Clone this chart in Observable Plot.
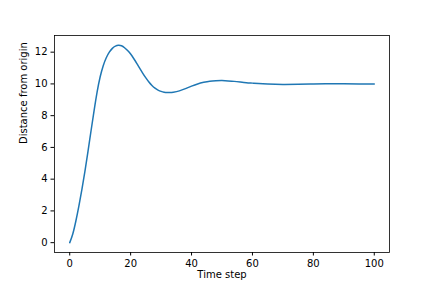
<!DOCTYPE html>
<html>
<head>
<meta charset="utf-8">
<script src="https://cdn.jsdelivr.net/npm/d3@7"></script>
<script src="https://cdn.jsdelivr.net/npm/@observablehq/plot@0.6"></script>
<style>
  html, body { margin: 0; padding: 0; background: #fff; }
  svg { font-family: "DejaVu Sans", sans-serif; }
</style>
</head>
<body>
<div id="chart"></div>
<script>
const timeSteps = [0,1,2,3,4,5,6,7,8,9,10,11,12,13,14,15,16,17,18,19,20,21,22,23,24,25,26,27,28,29,30,31,32,33,34,36,38,40,42,44,46,48,50,52,54,56,58,60,62,65,70,75,80,85,90,95,100];
const distances = [0,0.55,1.35,2.3,3.35,4.5,5.75,7.05,8.32,9.5,10.45,11.15,11.65,12.0,12.24,12.38,12.43,12.4,12.28,12.1,11.88,11.6,11.3,10.98,10.67,10.38,10.12,9.9,9.73,9.61,9.53,9.48,9.46,9.46,9.48,9.56,9.7,9.86,10.0,10.1,10.17,10.2,10.21,10.19,10.16,10.12,10.08,10.05,10.02,9.99,9.97,9.98,10.0,10.01,10.01,10.0,10.0];
const xTicks = [0,20,40,60,80,100];
const yTicks = [0,2,4,6,8,10,12];
const xLabel = "Time step";
const yLabel = "Distance from origin";

const data = timeSteps.map((t, i) => ({t, d: distances[i]}));

const chart = Plot.plot({
  width: 432,
  height: 288,
  marginLeft: 54,
  marginRight: 43,
  marginTop: 35,
  marginBottom: 36,
  style: {fontFamily: "DejaVu Sans, sans-serif", fontSize: "10px", color: "#000", background: "#fff"},
  x: {domain: [-5, 105], label: null},
  y: {domain: [-0.62, 13.05], label: null},
  marks: [
    Plot.axisX({ticks: xTicks, tickSize: 3.5, tickPadding: 3.5, label: null, fontSize: 10}),
    Plot.axisY({ticks: yTicks, tickSize: 3.5, tickPadding: 3.5, label: null, fontSize: 10}),
    Plot.line(data, {x: "t", y: "d", stroke: "#1f77b4", strokeWidth: 1.5, curve: "natural"}),
    Plot.frame({stroke: "#000", strokeWidth: 0.8}),
    Plot.text([xLabel], {frameAnchor: "bottom", text: d => d, dy: 25, fontSize: 10, fill: "#000"}),
    Plot.text([yLabel], {frameAnchor: "left", text: d => d, dx: -31, rotate: -90, fontSize: 10, fill: "#000"})
  ]
});
document.getElementById("chart").appendChild(chart);
</script>
</body>
</html>
